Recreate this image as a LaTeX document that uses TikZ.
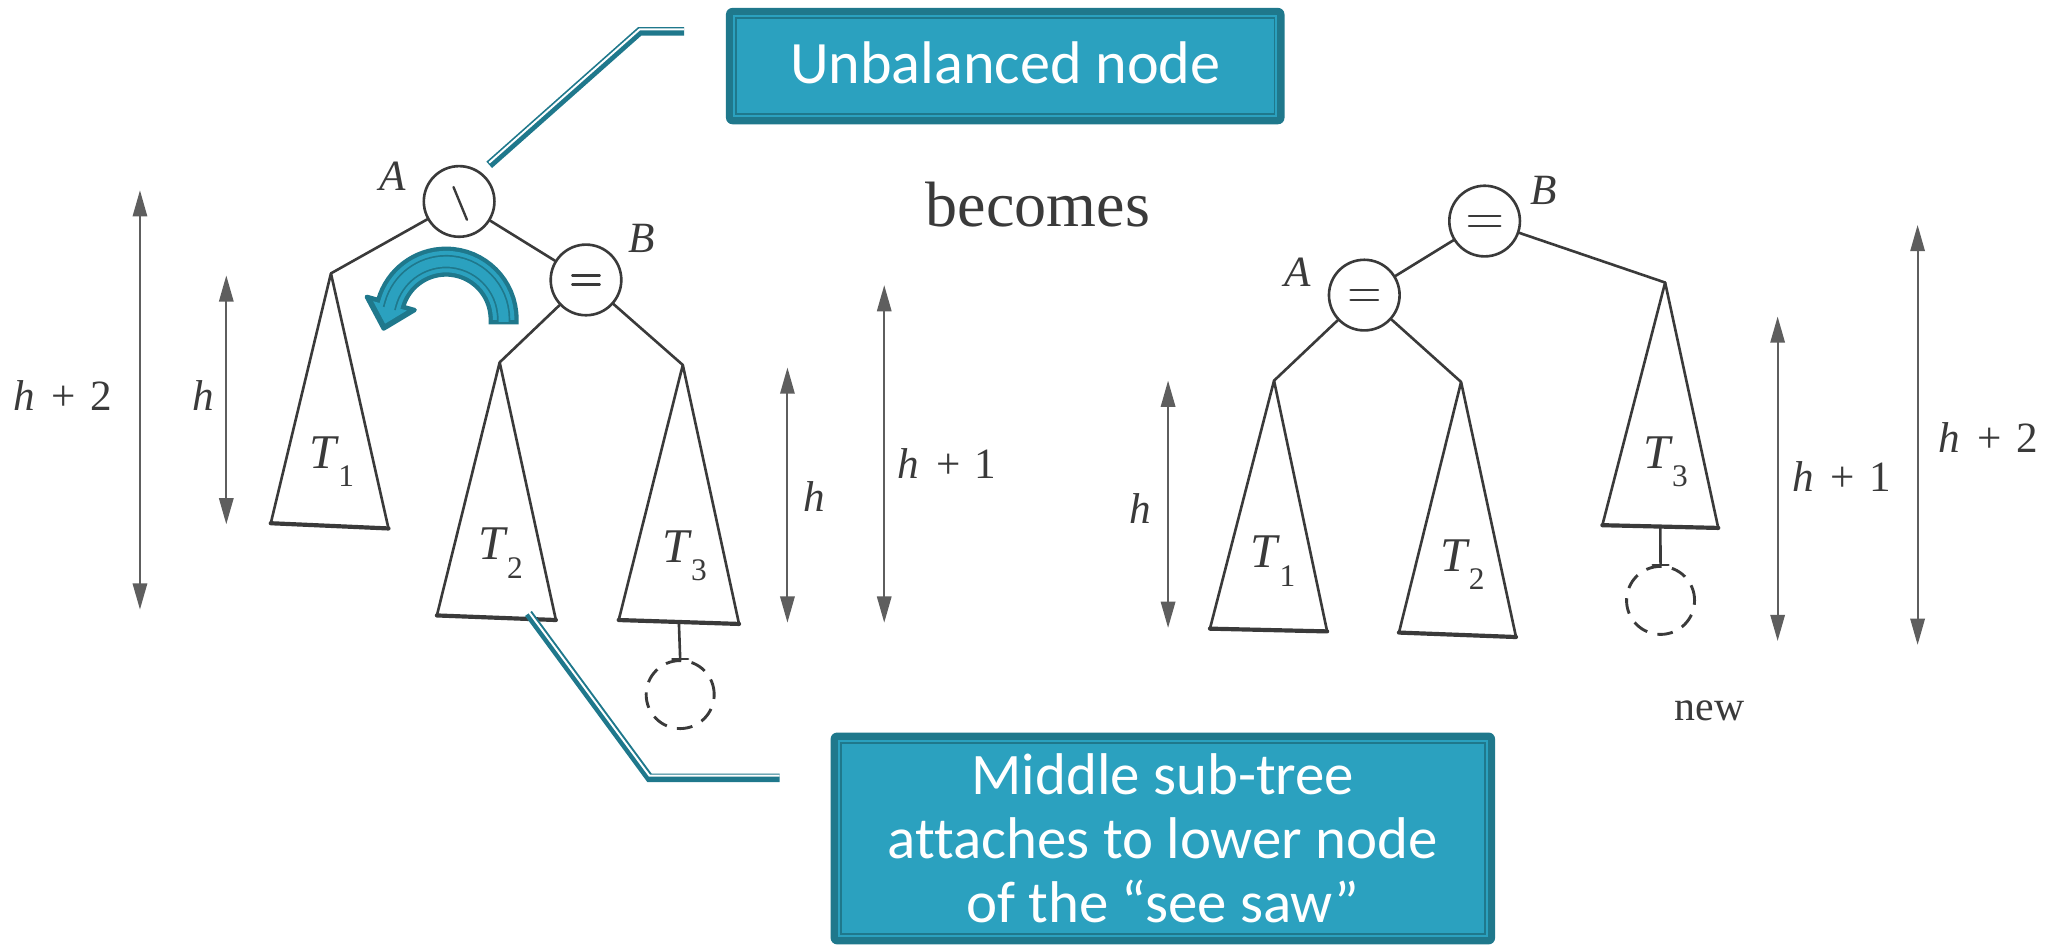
\documentclass[tikz,border=0pt]{standalone}
\usepackage{fontspec}
\setmainfont{Liberation Serif}
\newfontfamily\boxfont[Ligatures=NoCommon]{Carlito}
\usetikzlibrary{arrows.meta,calc}
\definecolor{dteal}{HTML}{1F788C}
\definecolor{lteal}{HTML}{2BA1BF}
\definecolor{ink}{HTML}{3A3A3A}
\definecolor{dimgrey}{HTML}{5E5E5E}
\tikzset{
  tnode/.style={circle, draw=ink, line width=2pt, minimum size=54pt, inner sep=0pt, fill=white},
  edge/.style={draw=ink, line width=2pt, line cap=round, line join=round},
  treebase/.style={draw=ink, line width=3.2pt, line cap=round},
  dimarrow/.style={draw=dimgrey, line width=1.5pt, {Triangle[length=20pt,width=11pt]}-{Triangle[length=20pt,width=11pt]}},
  lbl/.style={text=ink, inner sep=0pt, anchor=base west, font=\fontsize{33}{33}\selectfont\itshape},
  tlbl/.style={text=ink, inner sep=0pt, anchor=base west, font=\fontsize{37}{37}\selectfont\itshape},
  newcirc/.style={circle, draw=ink, line width=2.2pt, dash pattern=on 12pt off 8pt, minimum size=52pt, inner sep=0pt},
  boxfill/.style={fill=lteal, inner sep=0pt, text=white, align=center},
  callout/.style={draw=dteal, line width=6.5pt, line join=miter},
  callwhite/.style={draw=white, line width=1.5pt, line join=miter},
}
\newcommand{\subt}[1]{\hspace{1.5pt}\raisebox{-14pt}{\upshape\fontsize{24}{24}\selectfont #1}}
\begin{document}
\begin{tikzpicture}[x=1pt,y=-1pt]
\useasboundingbox (0,0) rectangle (1568,724);

% ---------------- left tree ----------------
\node[tnode] (A) at (351,154) {};
\node[tnode] (B) at (448,214) {};
\node[lbl] (Alab) at (290,145.5) {A};
\node[lbl] (Blab) at (480,193) {B};
\draw[edge, line width=1.8pt] ([shift={(-4.3,-11)}]A.center) -- ([shift={(6,14)}]A.center);
\draw[edge, line width=1.8pt] ([shift={(-10.5,-3.5)}]B.center) -- ([shift={(10.5,-3.5)}]B.center);
\draw[edge, line width=1.8pt] ([shift={(-10.5,3.5)}]B.center) -- ([shift={(10.5,3.5)}]B.center);

\coordinate (t1a) at (253,209); \coordinate (t1l) at (207,400); \coordinate (t1r) at (297,404);
\coordinate (t2a) at (382,277); \coordinate (t2l) at (334,470.5); \coordinate (t2r) at (425,474);
\coordinate (t3a) at (522,279); \coordinate (t3l) at (473,474); \coordinate (t3r) at (565,477);

\draw[edge] (A) -- (t1a);
\draw[edge] (A) -- (B);
\draw[edge] (B) -- (t2a);
\draw[edge] (B) -- (t3a);
\draw[edge] (t1l) -- (t1a) -- (t1r); \draw[treebase] (t1l) -- (t1r);
\draw[edge] (t2l) -- (t2a) -- (t2r); \draw[treebase] (t2l) -- (t2r);
\draw[edge] (t3l) -- (t3a) -- (t3r); \draw[treebase] (t3l) -- (t3r);
\node[tlbl] (T1lab) at (236.5,358) {T\subt{1}};
\node[tlbl] (T2lab) at (365.5,428) {T\subt{2}};
\node[tlbl] (T3lab) at (506,430) {T\subt{3}};

\node[newcirc] (N1) at (520,531) {};
\coordinate (t3m) at ($(t3l)!0.5!(t3r)$);
\draw[edge] (t3m) -- (N1.north);
\draw[edge] ([xshift=-6pt]N1.north) -- ([xshift=6pt]N1.north);

% dimension arrows left
\coordinate (d1t) at (107,145.5); \coordinate (d1b) at (107,466);
\coordinate (d2t) at (173,210.6); \coordinate (d2b) at (173,400.8);
\coordinate (d3t) at (602,281);   \coordinate (d3b) at (602,476);
\coordinate (d4t) at (676,218);   \coordinate (d4b) at (676,476);
\draw[dimarrow] (d1t) -- (d1b);
\draw[dimarrow] (d2t) -- (d2b);
\draw[dimarrow] (d3t) -- (d3b);
\draw[dimarrow] (d4t) -- (d4b);
\node[lbl] (L1) at (10,314) {h\hspace{13pt}\upshape +\hspace{11pt}2};
\node[lbl] (L2) at (147,314) {h};
\node[lbl] (L3) at (614,391) {h};
\node[lbl] (L4) at (686,366) {h\hspace{13pt}\upshape +\hspace{11pt}1};

% curved teal arrow
\draw[dteal, line width=23pt] (385,248) -- (385,244) arc[start angle=0,end angle=-164.2,radius=44];
\coordinate (h1) at (280.4,226.9); \coordinate (h2) at (317,237); \coordinate (htip) at (293.3,251.2);
\filldraw[fill=dteal, draw=dteal, line width=3.3pt, line join=round] (h1) -- (htip) -- (h2) -- cycle;
\fill[lteal] (285.3,230.3) -- (294.4,247.4) -- (311,237.4) -- cycle;
\draw[lteal, line width=16.4pt] (385,244.5) -- (385,244) arc[start angle=0,end angle=-164.2,radius=44] -- ++(-1.1,3.8);
\draw[dteal, line width=10.2pt] (385,244.5) -- (385,244) arc[start angle=0,end angle=-164.2,radius=44] -- ++(-1.1,3.8);
\draw[lteal, line width=7.6pt] (385,246) -- (385,244) arc[start angle=0,end angle=-164.2,radius=44] -- ++(-1.6,5.8);

% becomes
\node[text=ink, inner sep=0pt, anchor=base, font=\fontsize{49}{49}\selectfont] (becomes) at (793.6,173) {becomes};

% ---------------- right tree ----------------
\node[tnode] (RB) at (1135,169) {};
\node[tnode] (RA) at (1043,225.6) {};
\node[lbl] (RBlab) at (1170,156) {B};
\node[lbl] (RAlab) at (982,219) {A};
\draw[edge, line width=1.8pt] ([shift={(-12,-3.7)}]RB.center) -- ([shift={(12,-3.7)}]RB.center);
\draw[edge, line width=1.8pt] ([shift={(-12,3.7)}]RB.center) -- ([shift={(12,3.7)}]RB.center);
\draw[edge, line width=1.8pt] ([shift={(-10.5,-3.7)}]RA.center) -- ([shift={(10.5,-3.7)}]RA.center);
\draw[edge, line width=1.8pt] ([shift={(-10.5,3.7)}]RA.center) -- ([shift={(10.5,3.7)}]RA.center);

\coordinate (r1a) at (974,291);  \coordinate (r1l) at (925,480.6);  \coordinate (r1r) at (1014.6,482.7);
\coordinate (r2a) at (1117,292); \coordinate (r2l) at (1069.5,483.6); \coordinate (r2r) at (1159,487);
\coordinate (r3a) at (1273,216); \coordinate (r3l) at (1225,401.5); \coordinate (r3r) at (1313.6,403.6);

\draw[edge] (RB) -- (RA);
\draw[edge] (RB) -- (r3a);
\draw[edge] (RA) -- (r1a);
\draw[edge] (RA) -- (r2a);
\draw[edge] (r1l) -- (r1a) -- (r1r); \draw[treebase] (r1l) -- (r1r);
\draw[edge] (r2l) -- (r2a) -- (r2r); \draw[treebase] (r2l) -- (r2r);
\draw[edge] (r3l) -- (r3a) -- (r3r); \draw[treebase] (r3l) -- (r3r);
\node[tlbl] (RT1lab) at (956,434) {T\subt{1}};
\node[tlbl] (RT2lab) at (1100.7,437) {T\subt{2}};
\node[tlbl] (RT3lab) at (1256,358) {T\subt{3}};

\node[newcirc] (N2) at (1269.5,459) {};
\coordinate (r3m) at ($(r3l)!0.5!(r3r)$);
\draw[edge] (r3m) -- (N2.north);
\draw[edge] ([xshift=-6pt]N2.north) -- ([xshift=6pt]N2.north);

\coordinate (e1t) at (893,291);  \coordinate (e1b) at (893,480);
\coordinate (e2t) at (1359,242); \coordinate (e2b) at (1359,490);
\coordinate (e3t) at (1466,172); \coordinate (e3b) at (1466,493);
\draw[dimarrow] (e1t) -- (e1b);
\draw[dimarrow] (e2t) -- (e2b);
\draw[dimarrow] (e3t) -- (e3b);
\node[lbl] (R1) at (863,400) {h};
\node[lbl] (R2) at (1370,376) {h\hspace{13pt}\upshape +\hspace{11pt}1};
\node[lbl] (R3) at (1482,346) {h\hspace{13pt}\upshape +\hspace{11pt}2};
\node[text=ink, inner sep=0pt, anchor=base west, font=\fontsize{32}{32}\selectfont] (new) at (1280,551) {new};

% ---------------- callouts ----------------
\fill[dteal, rounded corners=5pt] (555,6) rectangle (982,95);
\fill[lteal] (560.6,11.6) rectangle (976.4,89.4);
\fill[dteal] (561.9,12.9) rectangle (975.1,88.1);
\node[boxfill, minimum width=410.2pt, minimum height=72.2pt, font=\boxfont\fontsize{46}{49}\selectfont] (box1) at (768.5,50.5) {\raisebox{5pt}{Unbalanced node}};

\coordinate (c1s) at (374,126); \coordinate (c1m) at (489,24); \coordinate (c1e) at (523,24);
\draw[callout] (c1s) -- (c1m) -- (c1e);
\draw[callwhite] ([yshift=1.6pt]c1s) -- ([yshift=1.6pt]c1m) -- ([yshift=1.6pt]c1e);

\fill[dteal, rounded corners=5pt] (635,560) rectangle (1143,722);
\fill[lteal] (640.6,565.6) rectangle (1137.4,716.4);
\fill[dteal] (641.9,566.9) rectangle (1136.1,715.1);
\node[boxfill, minimum width=491.2pt, minimum height=145.2pt, font=\boxfont\fontsize{45}{49}\selectfont] (box2) at (889,641) {Middle sub-tree\\attaches to lower node\\of the “see saw”};

\coordinate (c2s) at (404,469); \coordinate (c2m) at (496.5,594.6); \coordinate (c2e) at (596,594.6);
\draw[callout] (c2s) -- (c2m) -- (c2e);
\draw[callwhite] ([yshift=1.6pt]c2s) -- ([yshift=1.6pt]c2m) -- ([yshift=1.6pt]c2e);
\end{tikzpicture}
\end{document}
